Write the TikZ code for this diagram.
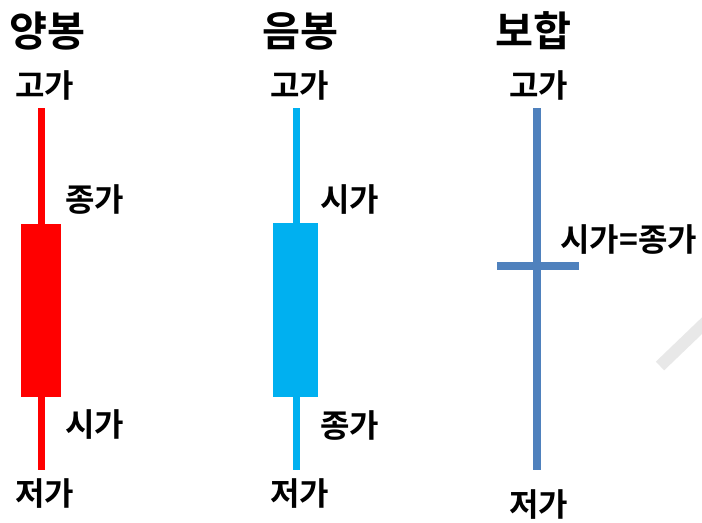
\documentclass[tikz,border=0pt]{standalone}
\usepackage{fontspec}
\newfontfamily\kr{Noto Sans CJK KR}[BoldFont={* Bold}]
\definecolor{upred}{HTML}{FF0000}
\definecolor{downcyan}{HTML}{00B0F0}
\definecolor{dojiblue}{HTML}{4F81BD}
\definecolor{wm}{HTML}{E8E8E8}
\begin{document}
\begin{tikzpicture}[x=0.75pt,y=-0.75pt,
  title/.style={font=\kr\bfseries\fontsize{31}{33}\selectfont, inner sep=0pt, anchor=west},
  lbl/.style={font=\kr\bfseries\fontsize{24}{26}\selectfont, inner sep=0pt, anchor=west}]
\useasboundingbox (0,0) rectangle (702,523);
\fill[white] (0,0) rectangle (702,523);
% watermark
\draw[wm, line width=9pt] (660,366) -- (710,318);
% red candle
\fill[upred] (37.5,108) rectangle (44.5,470);
\fill[upred] (21,224) rectangle (61,397);
% cyan candle
\fill[downcyan] (292.5,108) rectangle (299.5,470);
\fill[downcyan] (273,223) rectangle (318,397);
% doji
\fill[dojiblue] (533,108) rectangle (541,470);
\fill[dojiblue] (497,262) rectangle (579,270);
% titles
\node[title] (t1) at (9,31) {양봉};
\node[title] (t2) at (262,31) {음봉};
\node[title] (t3) at (495,31) {보합};
% labels red
\node[lbl] (r1) at (15,85) {고가};
\node[lbl] (r2) at (65,200) {종가};
\node[lbl] (r3) at (65,425) {시가};
\node[lbl] (r4) at (15,494) {저가};
% labels cyan
\node[lbl] (c1) at (270,85) {고가};
\node[lbl] (c2) at (320,200) {시가};
\node[lbl] (c3) at (320,425) {종가};
\node[lbl] (c4) at (270,494) {저가};
% labels doji
\node[lbl] (d1) at (509,85) {고가};
\node[lbl] (d2) at (560,240) {시가=종가};
\node[lbl] (d3) at (509,505) {저가};
\end{tikzpicture}
\end{document}
